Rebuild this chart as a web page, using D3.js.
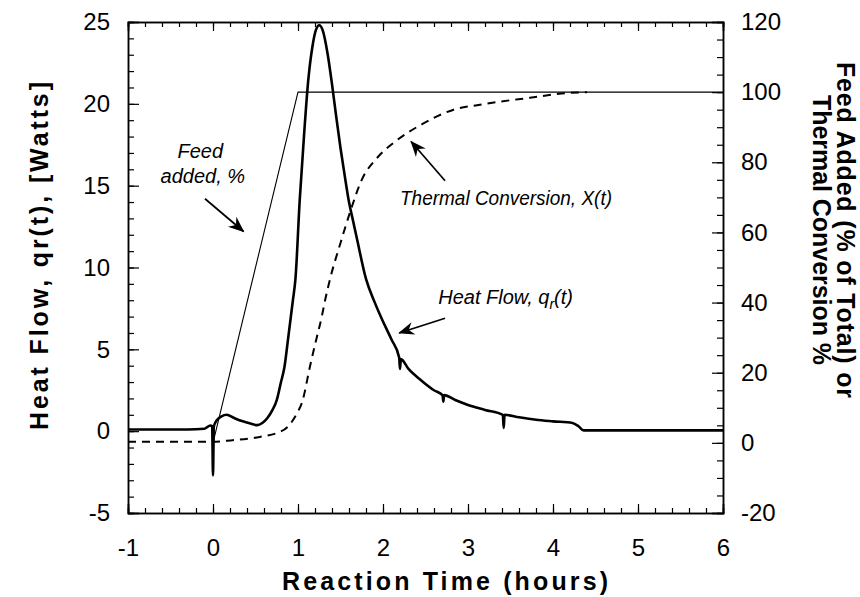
<!DOCTYPE html>
<html>
<head>
<meta charset="utf-8">
<script src="https://cdn.jsdelivr.net/npm/d3@7"></script>
<style>
  body { margin: 0; background: #fff; }
  svg { display: block; font-family: "Liberation Sans", Arial, Helvetica, sans-serif; }
  .tick text { font-size: 24px; fill: #000; }
  .domain { stroke: #000; stroke-width: 1.5; }
  .tick line { stroke: #000; stroke-width: 1.2; }
</style>
</head>
<body>
<div id="chart"></div>
<script>
// Heat flow q_r(t) in Watts
const heatTime = [-1, -0.3, -0.1, -0.03, -0.01, 0, 0.01, 0.05, 0.1, 0.16, 0.25, 0.35, 0.45, 0.52, 0.58, 0.64,
  0.7, 0.75, 0.8, 0.84, 0.88, 0.94, 0.97, 1.02, 1.07, 1.12, 1.17, 1.21, 1.25, 1.29, 1.35, 1.4, 1.45, 1.5,
  1.55, 1.6, 1.65, 1.7, 1.8, 1.9, 2.0, 2.1, 2.19, 2.2, 2.21, 2.3, 2.45, 2.6, 2.7, 2.71, 2.72, 2.85, 3.0,
  3.2, 3.41, 3.42, 3.43, 3.6, 3.8, 4.0, 4.23, 4.3, 4.36, 5, 6];
const heatFlow = [0.1, 0.1, 0.15, 0.35, 0.3, -2.7, 0.3, 0.7, 0.9, 1.0, 0.8, 0.6, 0.45, 0.37, 0.5, 0.8,
  1.3, 1.9, 3.0, 3.9, 5.5, 8.0, 9.3, 14.1, 18.0, 21.4, 23.5, 24.5, 24.8, 24.5, 23.0, 21.2, 19.2, 17.3,
  15.6, 14.0, 12.8, 11.6, 9.3, 7.9, 6.7, 5.6, 4.5, 3.8, 4.4, 3.8, 3.1, 2.5, 2.2, 1.8, 2.2, 1.9, 1.6,
  1.3, 1.0, 0.2, 1.0, 0.85, 0.7, 0.6, 0.5, 0.3, 0.05, 0.05, 0.05];

// Feed added, % of total
const feedTime = [0, 1, 6];
const feedPct = [0, 100, 100];

// Thermal conversion X(t), %
const convTime = [-1, 0, 0.16, 0.55, 0.75, 0.88, 0.99, 1.05, 1.14, 1.21, 1.28, 1.32, 1.38, 1.5, 1.61, 1.75,
  1.94, 2.17, 2.47, 2.83, 3.14, 3.35, 3.73, 4.1, 4.4];
const convPct = [0.3, 0.3, 0.6, 1.7, 2.8, 4.6, 8.5, 11.7, 21.7, 29, 36, 40.8, 47, 57, 65.6, 75,
  81.5, 86.4, 91, 95, 96.4, 97.2, 98.4, 99.6, 100];

const xTicks = [-1, 0, 1, 2, 3, 4, 5, 6];
const leftTicks = [-5, 0, 5, 10, 15, 20, 25];
const rightTicks = [-20, 0, 20, 40, 60, 80, 100, 120];

const width = 860, height = 597;
const margin = { top: 22, right: 137, bottom: 84, left: 128 };

const svg = d3.select('#chart').append('svg')
  .attr('width', width)
  .attr('height', height);

const x = d3.scaleLinear().domain([-1, 6]).range([margin.left, width - margin.right]);
const yL = d3.scaleLinear().domain([-5, 25]).range([height - margin.bottom, margin.top]);
const yR = d3.scaleLinear().domain([-20, 120]).range([height - margin.bottom, margin.top]);

const x0 = margin.left, x1 = width - margin.right;
const y0 = height - margin.bottom, y1 = margin.top;

// minor ticks first, then major ticks with labels
function minor(axis, values, size) {
  return axis.tickValues(values).tickSize(-size).tickFormat('');
}
const xMinor = d3.range(-1, 6.001, 0.2);
const lMinor = d3.range(-5, 25.001, 1);
const rMinor = d3.range(-20, 120.001, 5);

svg.append('g').attr('transform', `translate(0,${y0})`).call(minor(d3.axisBottom(x), xMinor, 5));
svg.append('g').attr('transform', `translate(0,${y1})`).call(minor(d3.axisTop(x), xMinor, 5));
svg.append('g').attr('transform', `translate(${x0},0)`).call(minor(d3.axisLeft(yL), lMinor, 6));
svg.append('g').attr('transform', `translate(${x1},0)`).call(minor(d3.axisRight(yR), rMinor, 6));

svg.append('g').attr('transform', `translate(0,${y0})`)
  .call(d3.axisBottom(x).tickValues(xTicks).tickSize(-9).tickPadding(26).tickFormat(d3.format('d')));
svg.append('g').attr('transform', `translate(0,${y1})`)
  .call(d3.axisTop(x).tickValues(xTicks).tickSize(-9).tickFormat(''));
svg.append('g').attr('transform', `translate(${x0},0)`)
  .call(d3.axisLeft(yL).tickValues(leftTicks).tickSize(-11).tickPadding(18).tickFormat(d3.format('d')));
svg.append('g').attr('transform', `translate(${x1},0)`)
  .call(d3.axisRight(yR).tickValues(rightTicks).tickSize(-11).tickPadding(18).tickFormat(d3.format('d')));

// use a plain hyphen for negatives like the original
svg.selectAll('.tick text').text(function () { return this.textContent.replace('\u2212', '-'); });

// curves
const heatLine = d3.line().x(d => x(d[0])).y(d => yL(d[1])).curve(d3.curveMonotoneX);
const pctLine = d3.line().x(d => x(d[0])).y(d => yR(d[1])).curve(d3.curveMonotoneX);

svg.append('path')
  .datum(d3.zip(feedTime, feedPct))
  .attr('d', d3.line().x(d => x(d[0])).y(d => yR(d[1])))
  .attr('fill', 'none').attr('stroke', '#000').attr('stroke-width', 1.1);

svg.append('path')
  .datum(d3.zip(convTime, convPct))
  .attr('d', pctLine)
  .attr('fill', 'none').attr('stroke', '#000').attr('stroke-width', 2)
  .attr('stroke-dasharray', '8,6');

svg.append('path')
  .datum(d3.zip(heatTime, heatFlow))
  .attr('d', heatLine)
  .attr('fill', 'none').attr('stroke', '#000').attr('stroke-width', 2.6)
  .attr('stroke-linejoin', 'round');

// annotations (positions in data units of the left axis)
svg.append('defs').append('marker')
  .attr('id', 'head')
  .attr('viewBox', '-16 -7 18 14')
  .attr('markerWidth', 18).attr('markerHeight', 14)
  .attr('markerUnits', 'userSpaceOnUse')
  .attr('orient', 'auto')
  .append('path')
  .attr('d', 'M1,0 L-15,-6.5 L-10,0 L-15,6.5 Z')
  .attr('fill', '#000');

const arrows = [
  { from: [-0.094, 14.2], to: [0.36, 12.2] },
  { from: [2.73, 15.3], to: [2.33, 17.7] },
  { from: [2.73, 6.9], to: [2.19, 6.0] }
];
svg.selectAll('.arrow').data(arrows).join('line')
  .attr('class', 'arrow')
  .attr('x1', d => x(d.from[0])).attr('y1', d => yL(d.from[1]))
  .attr('x2', d => x(d.to[0])).attr('y2', d => yL(d.to[1]))
  .attr('stroke', '#000').attr('stroke-width', 1.7)
  .attr('marker-end', 'url(#head)');

const note = svg.append('g').attr('font-style', 'italic').attr('font-size', 20);

note.append('text').attr('x', x(-0.15)).attr('y', yL(16.7)).attr('text-anchor', 'middle').text('Feed');
note.append('text').attr('x', x(-0.12)).attr('y', yL(15.15)).attr('text-anchor', 'middle').text('added, %');
note.append('text').attr('x', x(2.2)).attr('y', yL(13.8))
  .attr('textLength', 212).attr('lengthAdjust', 'spacingAndGlyphs')
  .text('Thermal Conversion, X(t)');

const hf = note.append('text').attr('x', x(2.65)).attr('y', yL(7.8));
hf.append('tspan').text('Heat Flow, q');
hf.append('tspan').attr('dy', 5).attr('font-size', 14).text('r');
hf.append('tspan').attr('dy', -5).text('(t)');

// axis titles
const title = svg.append('g').attr('font-weight', 'bold').attr('font-size', 25);

title.append('text')
  .attr('x', 445).attr('y', 590)
  .attr('text-anchor', 'middle')
  .attr('textLength', 326).attr('lengthAdjust', 'spacing')
  .text('Reaction Time (hours)');

title.append('text')
  .attr('transform', 'translate(48,256) rotate(-90)')
  .attr('text-anchor', 'middle')
  .attr('textLength', 348).attr('lengthAdjust', 'spacing')
  .text('Heat Flow, qr(t), [Watts]');

title.append('text')
  .attr('transform', 'translate(837,230) rotate(90)')
  .attr('text-anchor', 'middle')
  .attr('textLength', 336).attr('lengthAdjust', 'spacing')
  .text('Feed Added (% of Total) or');

title.append('text')
  .attr('transform', 'translate(813,230) rotate(90)')
  .attr('text-anchor', 'middle')
  .attr('textLength', 270).attr('lengthAdjust', 'spacing')
  .text('Thermal Conversion %');
</script>
</body>
</html>
